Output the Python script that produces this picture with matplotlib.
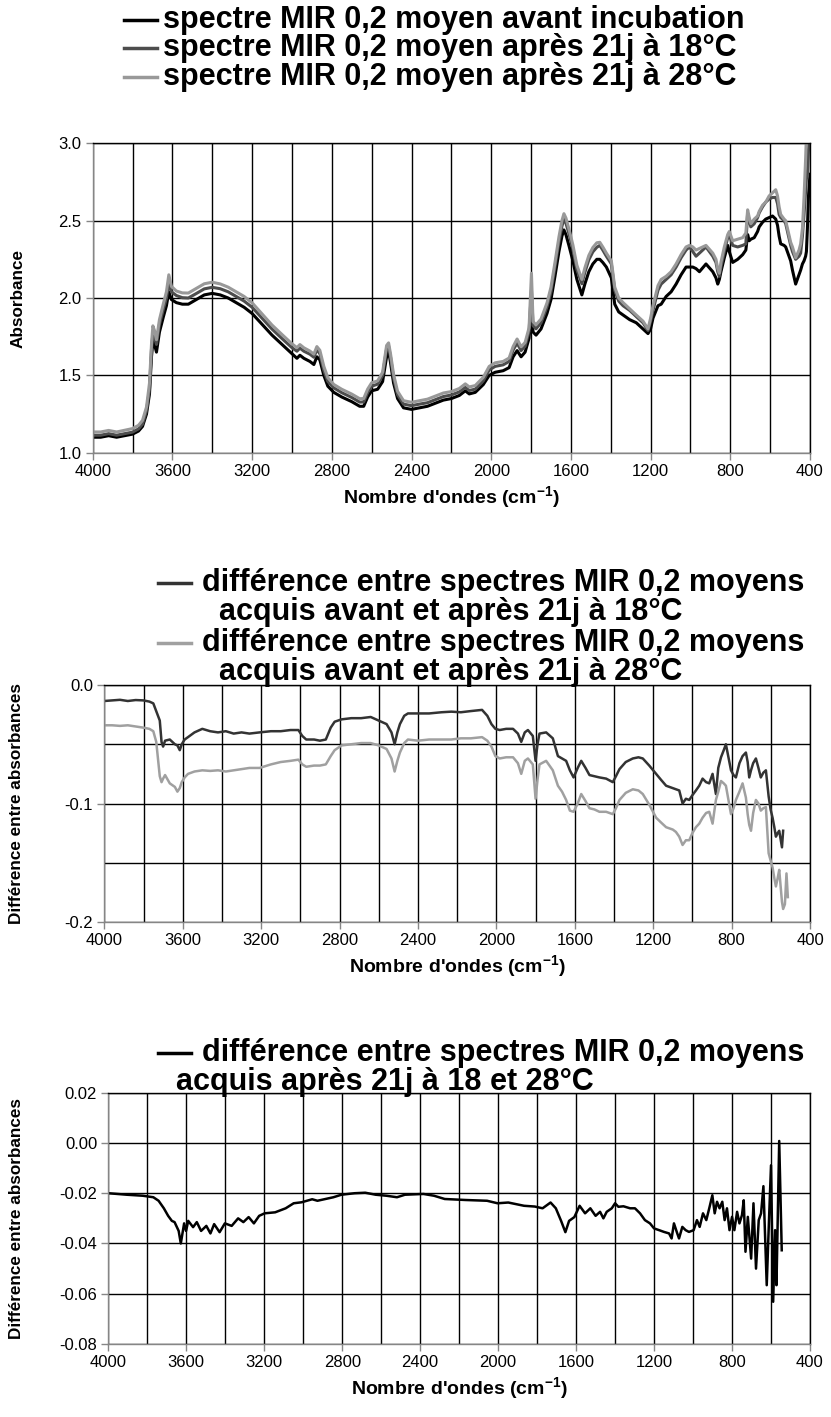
import numpy as np
import matplotlib.pyplot as plt
from matplotlib.lines import Line2D
from matplotlib.ticker import MultipleLocator, FormatStrFormatter

plt.rcParams['font.family'] = ['Liberation Sans', 'DejaVu Sans']
plt.rcParams['axes.unicode_minus'] = False
plt.rcParams['mathtext.fontset'] = 'custom'
plt.rcParams['mathtext.rm'] = 'Liberation Sans'
plt.rcParams['mathtext.bf'] = 'Liberation Sans:bold'

# --- spectres moyens (absorbance) ---
wn_spec = [4000, 3960, 3920, 3880, 3840, 3800, 3770, 3750, 3730, 3715, 3705, 3698,
           3690, 3680, 3665, 3645, 3630, 3618, 3605, 3580, 3550, 3520, 3480, 3440,
           3400, 3360, 3320, 3280, 3240, 3200, 3150, 3100, 3050, 3000, 2975, 2960,
           2940, 2910, 2890, 2875, 2860, 2840, 2820, 2790, 2750, 2700, 2660, 2640,
           2620, 2600, 2570, 2545, 2525, 2515, 2505, 2490, 2470, 2440, 2400, 2360,
           2320, 2280, 2240, 2200, 2160, 2130, 2110, 2080, 2040, 2010, 1980, 1940,
           1910, 1890, 1870, 1850, 1830, 1810, 1798, 1790, 1775, 1750, 1720, 1700,
           1680, 1660, 1645, 1635, 1625, 1610, 1590, 1570, 1555, 1545, 1530, 1510,
           1490, 1470, 1455, 1440, 1422, 1397, 1380, 1360, 1338, 1305, 1288, 1272,
           1238, 1213, 1200, 1188, 1163, 1147, 1122, 1097, 1072, 1047, 1022, 1005,
           988, 972, 955, 922, 888, 872, 863, 855, 847, 830, 813, 805, 788, 763, 738,
           722, 713, 705, 697, 680, 663, 655, 638, 622, 605, 588, 572, 563, 555, 547,
           530, 522, 497, 488, 472, 455, 447, 438, 430, 422, 418, 413, 408, 402, 400]
abs_avant = [1.10, 1.10, 1.11, 1.10, 1.11, 1.12, 1.14, 1.17, 1.25, 1.38, 1.62, 1.72,
             1.70, 1.65, 1.78, 1.88, 1.95, 2.04, 1.99, 1.97, 1.96, 1.96, 1.99, 2.02,
             2.03, 2.02, 2.00, 1.97, 1.94, 1.90, 1.83, 1.76, 1.70, 1.64, 1.61, 1.63,
             1.61, 1.59, 1.57, 1.62, 1.60, 1.50, 1.43, 1.39, 1.36, 1.33, 1.30, 1.30,
             1.36, 1.40, 1.41, 1.46, 1.62, 1.66, 1.58, 1.45, 1.35, 1.29, 1.28, 1.29,
             1.30, 1.32, 1.34, 1.35, 1.37, 1.40, 1.38, 1.39, 1.44, 1.50, 1.52, 1.53,
             1.55, 1.62, 1.66, 1.62, 1.65, 1.74, 1.95, 1.78, 1.76, 1.80, 1.90, 1.99,
             2.14, 2.30, 2.40, 2.44, 2.41, 2.34, 2.24, 2.12, 2.06, 2.02, 2.09, 2.17,
             2.22, 2.25, 2.25, 2.23, 2.20, 2.13, 1.96, 1.91, 1.89, 1.86, 1.85, 1.84,
             1.80, 1.77, 1.80, 1.87, 1.95, 1.96, 2.01, 2.04, 2.09, 2.15, 2.20, 2.20,
             2.20, 2.19, 2.17, 2.22, 2.17, 2.13, 2.09, 2.12, 2.17, 2.26, 2.34, 2.30,
             2.23, 2.25, 2.28, 2.31, 2.41, 2.37, 2.38, 2.39, 2.43, 2.46, 2.49, 2.51,
             2.52, 2.53, 2.51, 2.47, 2.40, 2.35, 2.34, 2.33, 2.24, 2.18, 2.09, 2.15,
             2.18, 2.22, 2.24, 2.27, 2.30, 2.45, 2.65, 2.76, 2.80]
abs_18 = [1.113, 1.113, 1.123, 1.113, 1.123, 1.133, 1.154, 1.185, 1.272, 1.41, 1.667, 1.77,
          1.75, 1.70, 1.83, 1.93, 2.00, 2.10, 2.04, 2.016, 2.002, 2.00, 2.029, 2.059,
          2.069, 2.06, 2.04, 2.01, 1.98, 1.94, 1.87, 1.799, 1.738, 1.679, 1.656, 1.676,
          1.656, 1.637, 1.617, 1.666, 1.64, 1.532, 1.461, 1.419, 1.388, 1.357, 1.327, 1.328,
          1.39, 1.43, 1.443, 1.50, 1.67, 1.69, 1.615, 1.483, 1.375, 1.314, 1.304, 1.314,
          1.323, 1.343, 1.363, 1.373, 1.393, 1.422, 1.402, 1.411, 1.464, 1.535, 1.558, 1.568,
          1.59, 1.664, 1.708, 1.66, 1.688, 1.785, 2.05, 1.821, 1.801, 1.84, 1.943, 2.04,
          2.20, 2.362, 2.464, 2.51, 2.484, 2.417, 2.315, 2.184, 2.128, 2.092, 2.166, 2.247,
          2.298, 2.328, 2.34, 2.31, 2.27, 2.22, 2.05, 1.98, 1.95, 1.92, 1.90, 1.88,
          1.84, 1.79, 1.85, 1.92, 2.05, 2.09, 2.12, 2.15, 2.20, 2.26, 2.31, 2.33,
          2.30, 2.27, 2.29, 2.33, 2.27, 2.23, 2.17, 2.14, 2.20, 2.30, 2.39, 2.41,
          2.34, 2.33, 2.34, 2.35, 2.55, 2.50, 2.46, 2.48, 2.52, 2.55, 2.59, 2.62,
          2.64, 2.65, 2.65, 2.61, 2.54, 2.52, 2.50, 2.48, 2.34, 2.30, 2.25, 2.27,
          2.29, 2.40, 2.54, 2.70, 2.77, 2.80, 2.95, 3.05, 3.10]
abs_28 = [1.134, 1.134, 1.144, 1.134, 1.145, 1.156, 1.177, 1.209, 1.295, 1.45, 1.70, 1.82,
          1.79, 1.73, 1.86, 1.965, 2.04, 2.15, 2.075, 2.045, 2.033, 2.032, 2.062, 2.092,
          2.102, 2.091, 2.07, 2.04, 2.01, 1.969, 1.897, 1.825, 1.764, 1.704, 1.679, 1.699,
          1.678, 1.657, 1.637, 1.686, 1.662, 1.558, 1.485, 1.441, 1.41, 1.379, 1.349, 1.35,
          1.411, 1.452, 1.464, 1.52, 1.693, 1.71, 1.637, 1.507, 1.397, 1.336, 1.326, 1.336,
          1.346, 1.366, 1.386, 1.395, 1.415, 1.445, 1.425, 1.434, 1.487, 1.558, 1.581, 1.59,
          1.612, 1.686, 1.735, 1.685, 1.712, 1.807, 2.16, 1.847, 1.827, 1.864, 1.968, 2.07,
          2.229, 2.395, 2.50, 2.545, 2.517, 2.447, 2.343, 2.212, 2.157, 2.12, 2.194, 2.275,
          2.326, 2.357, 2.36, 2.33, 2.29, 2.24, 2.07, 2.00, 1.97, 1.93, 1.91, 1.89,
          1.85, 1.80, 1.87, 1.95, 2.08, 2.12, 2.14, 2.17, 2.22, 2.28, 2.33, 2.34,
          2.33, 2.31, 2.32, 2.34, 2.29, 2.25, 2.19, 2.16, 2.23, 2.33, 2.41, 2.43,
          2.37, 2.38, 2.39, 2.42, 2.57, 2.52, 2.48, 2.51, 2.53, 2.56, 2.60, 2.62,
          2.66, 2.68, 2.70, 2.66, 2.59, 2.54, 2.51, 2.50, 2.36, 2.33, 2.26, 2.31,
          2.35, 2.45, 2.65, 2.90, 3.05, 3.10, 3.10, 3.10, 3.10]

# --- differences avant / apres incubation ---
wn_diff = [4000, 3960, 3920, 3880, 3840, 3800, 3770, 3750, 3735, 3717, 3708, 3700,
           3690, 3666, 3640, 3627, 3615, 3605, 3590, 3573, 3540, 3500, 3460, 3420,
           3380, 3340, 3300, 3260, 3208, 3150, 3100, 3050, 3010, 2990, 2970, 2930,
           2900, 2870, 2845, 2825, 2790, 2740, 2690, 2641, 2600, 2560, 2535, 2519,
           2505, 2492, 2470, 2451, 2400, 2343, 2280, 2230, 2181, 2130, 2073, 2046,
           2025, 2005, 1983, 1950, 1915, 1890, 1873, 1855, 1839, 1814, 1800, 1790,
           1780, 1746, 1712, 1686, 1665, 1644, 1625, 1606, 1585, 1567, 1545, 1525,
           1500, 1474, 1440, 1406, 1390, 1372, 1340, 1304, 1275, 1253, 1220, 1185,
           1160, 1134, 1100, 1084, 1067, 1050, 1033, 1016, 1000, 982, 965, 948,
           930, 914, 897, 880, 868, 854, 840, 829, 815, 803, 790, 778,
           760, 744, 727, 718, 710, 701, 690, 676, 663, 651, 638, 625,
           611, 601, 591, 582, 574, 565, 557, 549, 543, 537, 528, 520, 513]
diff_18 = [-0.0135, -0.013, -0.0125, -0.0135, -0.0127, -0.013, -0.014, -0.0155, -0.022, -0.030, -0.048, -0.052,
           -0.047, -0.046, -0.050, -0.051, -0.055, -0.050, -0.046, -0.044, -0.040, -0.037, -0.039, -0.040,
           -0.039, -0.041, -0.040, -0.041, -0.040, -0.039, -0.039, -0.038, -0.038, -0.043, -0.046, -0.046,
           -0.047, -0.046, -0.036, -0.031, -0.029, -0.028, -0.028, -0.027, -0.030, -0.033, -0.040, -0.050,
           -0.040, -0.033, -0.026, -0.024, -0.024, -0.024, -0.023, -0.0225, -0.023, -0.022, -0.021, -0.026,
           -0.033, -0.037, -0.038, -0.037, -0.037, -0.041, -0.048, -0.040, -0.038, -0.043, -0.064, -0.050,
           -0.041, -0.040, -0.045, -0.060, -0.062, -0.064, -0.072, -0.078, -0.070, -0.064, -0.070, -0.076,
           -0.077, -0.078, -0.079, -0.082, -0.077, -0.071, -0.065, -0.062, -0.061, -0.062, -0.068, -0.075,
           -0.080, -0.085, -0.087, -0.088, -0.089, -0.100, -0.096, -0.097, -0.093, -0.089, -0.085, -0.079,
           -0.082, -0.083, -0.075, -0.092, -0.070, -0.061, -0.055, -0.050, -0.062, -0.072, -0.076, -0.078,
           -0.066, -0.060, -0.057, -0.065, -0.078, -0.072, -0.066, -0.062, -0.070, -0.078, -0.074, -0.072,
           -0.094, -0.105, -0.112, -0.120, -0.128, -0.125, -0.123, -0.131, -0.137, -0.123, np.nan, np.nan, np.nan]
diff_28 = [-0.034, -0.034, -0.0345, -0.034, -0.035, -0.036, -0.037, -0.039, -0.048, -0.077, -0.082, -0.079,
           -0.076, -0.083, -0.086, -0.090, -0.087, -0.082, -0.078, -0.075, -0.073, -0.072, -0.0725, -0.072,
           -0.073, -0.072, -0.071, -0.070, -0.070, -0.067, -0.065, -0.064, -0.063, -0.067, -0.069, -0.068,
           -0.068, -0.067, -0.060, -0.055, -0.051, -0.050, -0.049, -0.049, -0.051, -0.054, -0.062, -0.073,
           -0.064, -0.057, -0.049, -0.046, -0.047, -0.046, -0.046, -0.046, -0.045, -0.045, -0.044, -0.047,
           -0.052, -0.060, -0.062, -0.061, -0.061, -0.066, -0.075, -0.064, -0.062, -0.067, -0.096, -0.080,
           -0.067, -0.064, -0.072, -0.085, -0.090, -0.097, -0.106, -0.107, -0.100, -0.092, -0.098, -0.104,
           -0.105, -0.107, -0.107, -0.109, -0.104, -0.097, -0.091, -0.088, -0.089, -0.092, -0.101, -0.112,
           -0.116, -0.120, -0.122, -0.124, -0.128, -0.135, -0.131, -0.131, -0.125, -0.120, -0.117, -0.112,
           -0.108, -0.107, -0.117, -0.097, -0.090, -0.081, -0.083, -0.085, -0.098, -0.109, -0.104, -0.097,
           -0.090, -0.083, -0.095, -0.109, -0.118, -0.123, -0.108, -0.097, -0.100, -0.106, -0.104, -0.103,
           -0.142, -0.148, -0.154, -0.163, -0.170, -0.163, -0.156, -0.172, -0.183, -0.189, -0.185, -0.159, -0.179]

# --- difference entre 18 et 28 degres ---
wn_1828 = [4000, 3905, 3823, 3769, 3742, 3715, 3693, 3674, 3660, 3639, 3628, 3611,
           3601, 3590, 3565, 3546, 3524, 3497, 3476, 3457, 3429, 3402, 3367, 3334,
           3307, 3280, 3253, 3226, 3198, 3144, 3090, 3049, 3008, 2954, 2927, 2886,
           2845, 2804, 2736, 2682, 2628, 2573, 2519, 2478, 2383, 2329, 2274, 2166,
           2057, 2003, 1948, 1867, 1812, 1772, 1731, 1704, 1677, 1655, 1636, 1609,
           1582, 1554, 1527, 1500, 1477, 1460, 1443, 1417, 1400, 1383, 1357, 1323,
           1298, 1272, 1247, 1221, 1200, 1174, 1149, 1123, 1110, 1098, 1081, 1072,
           1055, 1038, 1021, 997, 980, 966, 949, 932, 915, 901, 889, 877,
           864, 850, 838, 826, 813, 800, 788, 774, 762, 749, 740, 731,
           719, 702, 690, 677, 663, 651, 639, 622, 611, 600, 589, 579,
           572, 558, 545]
diff_1828 = [-0.0200, -0.0206, -0.0210, -0.0216, -0.0230, -0.0260, -0.0290, -0.0310, -0.0315, -0.0350, -0.0400, -0.0320,
             -0.0350, -0.0310, -0.0335, -0.0315, -0.0350, -0.0330, -0.0360, -0.0323, -0.0355, -0.0320, -0.0330, -0.0300,
             -0.0315, -0.0295, -0.0320, -0.0290, -0.0280, -0.0276, -0.0260, -0.0240, -0.0236, -0.0224, -0.0230, -0.0223,
             -0.0216, -0.0206, -0.0200, -0.0198, -0.0206, -0.0210, -0.0216, -0.0206, -0.0203, -0.0210, -0.0223, -0.0227,
             -0.0230, -0.0240, -0.0237, -0.0250, -0.0253, -0.0260, -0.0237, -0.0260, -0.0310, -0.0355, -0.0310, -0.0295,
             -0.0250, -0.0280, -0.0260, -0.0290, -0.0274, -0.0300, -0.0274, -0.0260, -0.0240, -0.0254, -0.0252, -0.0260,
             -0.0260, -0.0280, -0.0307, -0.0320, -0.0340, -0.0347, -0.0354, -0.0360, -0.0380, -0.0320, -0.0360, -0.0380,
             -0.0334, -0.0347, -0.0354, -0.0347, -0.0307, -0.0334, -0.0280, -0.0307, -0.0254, -0.0208, -0.0280, -0.0234,
             -0.0260, -0.0234, -0.0307, -0.0260, -0.0347, -0.0294, -0.0347, -0.0274, -0.0320, -0.0287, -0.0228, -0.0433,
             -0.0294, -0.0460, -0.0240, -0.0500, -0.0307, -0.0280, -0.0172, -0.0566, -0.0320, -0.0089, -0.0632, -0.0347,
             -0.0566, 0.0008, -0.0427]

GRID = '#000000'
SPINE = '#868686'
fig = plt.figure(figsize=(8.31, 14.17), dpi=100)
W, H = 831, 1417


def add_panel(left, top, right, bottom):
    return fig.add_axes([left / W, 1 - bottom / H, (right - left) / W, (bottom - top) / H])


def style_axes(ax, ylim, ymajor, yminor, yfmt, ylabel, ylabel_x):
    ax.set_xlim(4000, 400)
    ax.set_ylim(*ylim)
    ax.xaxis.set_major_locator(MultipleLocator(400))
    ax.xaxis.set_minor_locator(MultipleLocator(200))
    ax.yaxis.set_major_locator(MultipleLocator(ymajor))
    ax.yaxis.set_minor_locator(MultipleLocator(yminor))
    ax.yaxis.set_major_formatter(FormatStrFormatter(yfmt))
    ax.grid(True, which='both', color=GRID, linewidth=1.0)
    ax.set_axisbelow(True)
    ax.tick_params(which='major', direction='out', length=5, width=1, color=SPINE,
                   labelsize=12, pad=3)
    ax.tick_params(which='minor', length=0)
    for side in ('left', 'bottom'):
        ax.spines[side].set_color(SPINE)
    for side in ('top', 'right'):
        ax.spines[side].set_color(GRID)
    for sp in ax.spines.values():
        sp.set_linewidth(1.0)
    ax.set_xlabel(r"Nombre d'ondes (cm$^{\mathbf{-1}}$)", fontsize=14, fontweight='bold', labelpad=4)
    ax.set_ylabel(ylabel, fontsize=12.3, fontweight='bold')
    # position en pixels du bord droit du titre vertical
    left_px = ax.get_position().x0 * W
    ax.yaxis.set_label_coords((ylabel_x - left_px) / (ax.get_position().width * W), 0.5)


def legend_rows(rows, fs=22):
    # rows: (x_handle, y, colour or None, text, x_text)
    for xh, y, col, txt, xt in rows:
        if col is not None:
            fig.add_artist(Line2D([xh / W, (xh + 33) / W], [1 - y / H, 1 - y / H],
                                  color=col, linewidth=2.5, transform=fig.transFigure))
        fig.text(xt / W, 1 - y / H, txt, fontsize=fs, fontweight='bold',
                 ha='left', va='center')


# panneau 1 : spectres
ax1 = add_panel(92.7, 143.3, 810, 452.7)
ax1.plot(wn_spec, abs_avant, color='#000000', linewidth=2.2)
ax1.plot(wn_spec, abs_18, color='#4d4d4d', linewidth=2.2)
ax1.plot(wn_spec, abs_28, color='#999999', linewidth=2.2)
style_axes(ax1, (1.0, 3.0), 0.5, 0.5, '%.1f', 'Absorbance', 26)
legend_rows([
    (124, 20, '#000000', 'spectre MIR 0,2 moyen avant incubation', 163),
    (124, 48, '#4d4d4d', 'spectre MIR 0,2 moyen après 21j à 18°C', 163),
    (124, 77, '#999999', 'spectre MIR 0,2 moyen après 21j à 28°C', 163),
])

# panneau 2 : differences avant / apres
ax2 = add_panel(104.3, 685, 810, 922)
ax2.plot(wn_diff, diff_18, color='#333333', linewidth=1.8)
ax2.plot(wn_diff, diff_28, color='#a0a0a0', linewidth=1.8)
style_axes(ax2, (-0.2, 0.0), 0.1, 0.05, '%.1f', 'Différence entre absorbances', 24)
legend_rows([
    (158, 583, '#333333', 'différence entre spectres MIR 0,2 moyens', 202),
    (0, 612, None, 'acquis avant et après 21j à 18°C', 219),
    (158, 643, '#a0a0a0', 'différence entre spectres MIR 0,2 moyens', 202),
    (0, 672, None, 'acquis avant et après 21j à 28°C', 219),
])

# panneau 3 : difference 18 / 28 degres
ax3 = add_panel(108.3, 1092.7, 810, 1344)
ax3.plot(wn_1828, diff_1828, color='#000000', linewidth=1.8)
style_axes(ax3, (-0.08, 0.02), 0.02, 0.02, '%.2f', 'Différence entre absorbances', 24)
legend_rows([
    (158, 1053, '#000000', 'différence entre spectres MIR 0,2 moyens', 202),
    (0, 1082, None, 'acquis après 21j à 18 et 28°C', 176),
])

fig.savefig('out.png', dpi=100)
